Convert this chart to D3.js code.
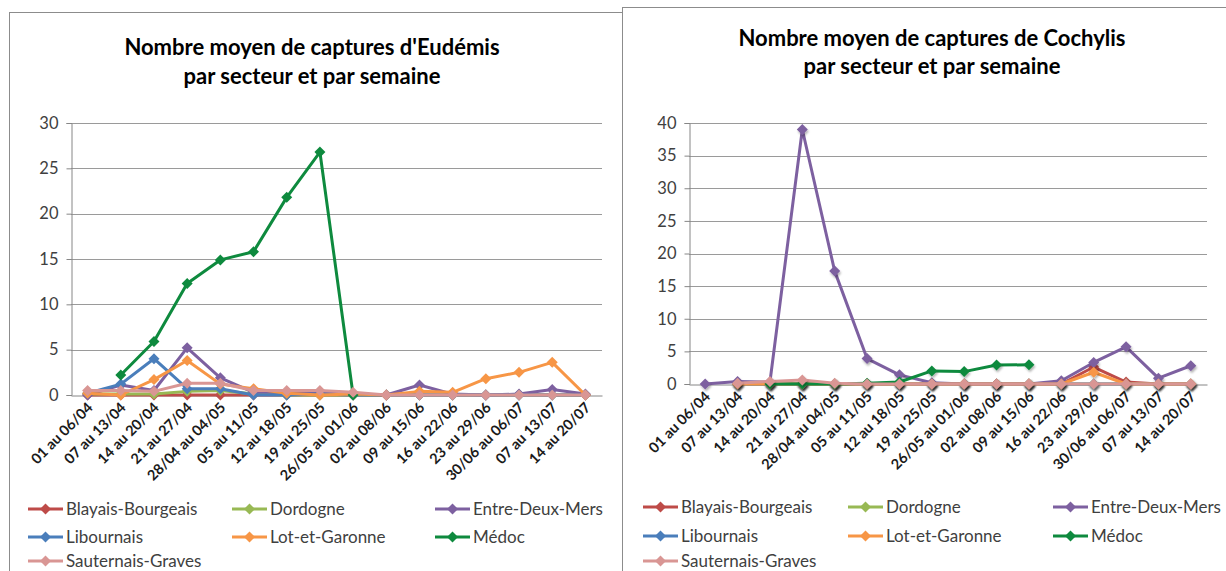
<!DOCTYPE html>
<html>
<head>
<meta charset="utf-8">
<script src="https://cdn.jsdelivr.net/npm/d3@7"></script>
<style>
  body { margin: 0; background: #fff; }
  svg { display: block; }
  text { font-family: Lato, "Open Sans", sans-serif; }
</style>
</head>
<body>
<svg id="chart" width="1226" height="571"></svg>
<script>
// Semaines (axe des abscisses)
const weeks = ["01 au 06/04", "07 au 13/04", "14 au 20/04", "21 au 27/04", "28/04 au 04/05",
    "05 au 11/05", "12 au 18/05", "19 au 25/05", "26/05 au 01/06", "02 au 08/06",
    "09 au 15/06", "16 au 22/06", "23 au 29/06", "30/06 au 06/07", "07 au 13/07", "14 au 20/07"];

const sectors = ["Blayais-Bourgeais", "Dordogne", "Entre-Deux-Mers", "Libournais",
    "Lot-et-Garonne", "Médoc", "Sauternais-Graves"];
const sectorColors = ["#be4b48", "#98b954", "#7d60a0", "#4a7ebb", "#f79646", "#0e8a3e", "#d99694"];

// Eudémis
const eudBlayais    = [0, 0, 0, 0, 0, 0, 0, 0, 0, 0, 0, 0, 0, 0, 0, 0];
const eudDordogne   = [0.1, 0.1, 0.1, 0.4, 0.5, 0.1, 0, 0, 0, 0, 0, 0, 0, 0, 0, 0];
const eudEntreDeux  = [0, 1.1, 0.5, 5.2, 1.9, 0.3, 0.3, 0.4, 0.1, 0, 1.1, 0.1, 0, 0.1, 0.6, 0.1];
const eudLibournais = [0.2, 1.2, 4.0, 0.7, 0.7, 0, 0, 0.1, 0, 0, 0, 0, 0, 0, 0, 0];
const eudLotGaronne = [0.2, 0, 1.7, 3.8, 1.2, 0.7, 0.2, 0, 0.1, 0, 0.4, 0.3, 1.8, 2.5, 3.6, 0];
const eudMedoc      = [null, 2.2, 5.9, 12.3, 14.9, 15.8, 21.8, 26.8, 0, null, null, null, null, null, null, null];
const eudSauternais = [0.5, 0.5, 0.4, 1.3, 1.3, 0.5, 0.5, 0.5, 0.3, 0, 0, 0, 0, 0, 0, 0];
const eudTicks = [0, 5, 10, 15, 20, 25, 30];

// Cochylis
const cocBlayais    = [null, 0, 0, 0, 0, 0, 0, 0, 0, 0, 0, 0, 2.6, 0.3, 0, 0];
const cocDordogne   = [null, 0, 0, 0, 0, 0, 0, 0, 0, 0, 0, 0, 0, 0, 0, 0];
const cocEntreDeux  = [0, 0.4, 0.3, 39, 17.3, 3.9, 1.4, 0.2, 0, 0, 0, 0.5, 3.3, 5.7, 0.9, 2.8];
const cocLibournais = [null, 0, 0, 0, 0, 0, 0, 0, 0, 0, 0, 0, 0, 0, 0, 0];
const cocLotGaronne = [null, 0, 0, 0, 0, 0, 0, 0, 0, 0, 0, 0, 1.8, 0, 0, 0];
const cocMedoc      = [null, null, 0, 0, 0, 0.1, 0.3, 2.0, 1.9, 2.9, 2.95, null, null, null, null, null];
const cocSauternais = [null, 0.1, 0.4, 0.6, 0.1, 0, 0, 0, 0, 0, 0, 0, 0, 0, 0, 0];
const cocTicks = [0, 5, 10, 15, 20, 25, 30, 35, 40];

const svg = d3.select('#chart');

// drop shadow for markers
const defs = svg.append('defs');
const f = defs.append('filter').attr('id', 'shadow')
    .attr('x', '-50%').attr('y', '-50%').attr('width', '200%').attr('height', '200%');
f.append('feDropShadow').attr('dx', 1).attr('dy', 2).attr('stdDeviation', 1.2)
    .attr('flood-color', '#000').attr('flood-opacity', 0.3);

const diamond = r => `M0,${-r}L${r},0L0,${r}L${-r},0Z`;

function drawChart(cfg) {
    const g = svg.append('g');

    // Frame
    g.append('rect')
        .attr('x', cfg.frame[0] + 0.5).attr('y', cfg.frame[1] + 0.5)
        .attr('width', cfg.frame[2]).attr('height', cfg.frame[3])
        .attr('fill', '#fff').attr('stroke', '#8c8c8c');

    // Title
    g.append('text')
        .attr('x', cfg.titleX).attr('y', cfg.titleY)
        .attr('text-anchor', 'middle')
        .style('font-size', '22px').style('font-weight', 'bold').style('fill', '#000')
        .selectAll('tspan').data(cfg.title).enter().append('tspan')
        .attr('x', cfg.titleX).attr('dy', (d, i) => i === 0 ? 0 : cfg.titleGap)
        .text(d => d);

    const x = d3.scaleBand().domain(weeks).range([cfg.left, cfg.right]);
    const y = d3.scaleLinear().domain([0, d3.max(cfg.ticks)]).range([cfg.bottom, cfg.top]);
    const cx = d => x(d) + x.bandwidth() / 2;

    // Gridlines
    g.append('g').selectAll('line').data(cfg.ticks.filter(t => t > 0)).enter().append('line')
        .attr('x1', cfg.left).attr('x2', cfg.right)
        .attr('y1', d => Math.round(y(d)) + 0.5).attr('y2', d => Math.round(y(d)) + 0.5)
        .attr('stroke', '#9a9a9a').attr('stroke-width', 1);

    // Y axis
    const yAxis = g.append('g')
        .attr('transform', `translate(${cfg.left + 0.5},0)`)
        .call(d3.axisLeft(y).tickValues(cfg.ticks).tickSize(5).tickPadding(8));
    yAxis.select('.domain').attr('stroke', '#868686');
    yAxis.selectAll('.tick line').attr('stroke', '#868686');
    yAxis.selectAll('text').style('font-size', '16.5px').style('fill', '#404040')
        .style('font-family', 'Lato, sans-serif');

    // X axis
    const xAxis = g.append('g')
        .attr('transform', `translate(0,${Math.round(cfg.bottom) + 0.5})`)
        .call(d3.axisBottom(x).tickSize(0).tickPadding(0));
    xAxis.select('.domain').attr('stroke', '#868686');
    xAxis.selectAll('.tick text')
        .attr('text-anchor', 'end')
        .attr('dy', 0).attr('y', 0)
        .attr('transform', 'translate(6,13) rotate(-45)')
        .style('font-size', '14.5px').style('font-weight', 'bold').style('fill', '#1a1a1a')
        .style('font-family', 'Lato, sans-serif');

    // Series
    const line = d3.line()
        .defined(d => d != null)
        .x((d, i) => cx(weeks[i]))
        .y(d => y(d));

    cfg.series.forEach((vals, si) => {
        const sg = g.append('g');
        sg.append('path')
            .datum(vals)
            .attr('d', line)
            .attr('fill', 'none')
            .attr('stroke', sectorColors[si])
            .attr('stroke-width', 3)
            .attr('stroke-linejoin', 'round');
        sg.selectAll('path.m')
            .data(vals.map((v, i) => ({ v, i })).filter(d => d.v != null))
            .enter().append('path')
            .attr('class', 'm')
            .attr('d', diamond(5.5))
            .attr('transform', d => `translate(${cx(weeks[d.i])},${y(d.v)})`)
            .attr('fill', sectorColors[si])
            .attr('filter', cfg.shadow ? 'url(#shadow)' : null);
    });

    // Legend
    const leg = g.append('g');
    sectors.forEach((name, i) => {
        const col = i % 3, row = Math.floor(i / 3);
        const lx = cfg.legendX[col], ly = cfg.legendY[row];
        leg.append('line')
            .attr('x1', lx).attr('x2', lx + 35).attr('y1', ly).attr('y2', ly)
            .attr('stroke', sectorColors[i]).attr('stroke-width', 3);
        leg.append('path')
            .attr('d', diamond(5.5))
            .attr('transform', `translate(${lx + 17.5},${ly})`)
            .attr('fill', sectorColors[i]);
        leg.append('text')
            .attr('x', lx + 38).attr('y', ly + 6)
            .style('font-size', '17px').style('fill', '#404040')
            .text(name);
    });
}

drawChart({
    frame: [9, 12, 640, 600],
    title: ["Nombre moyen de captures d'Eudémis", "par secteur et par semaine"],
    titleX: 312, titleY: 55, titleGap: 29,
    left: 71, right: 602, top: 123, bottom: 395,
    ticks: eudTicks,
    series: [eudBlayais, eudDordogne, eudEntreDeux, eudLibournais, eudLotGaronne, eudMedoc, eudSauternais],
    legendX: [28, 232, 435],
    legendY: [509, 537, 561],
    shadow: false
});

drawChart({
    frame: [622, 7, 620, 600],
    title: ["Nombre moyen de captures de Cochylis", "par secteur et par semaine"],
    titleX: 932, titleY: 46, titleGap: 28,
    left: 689, right: 1207, top: 123, bottom: 384,
    ticks: cocTicks,
    series: [cocBlayais, cocDordogne, cocEntreDeux, cocLibournais, cocLotGaronne, cocMedoc, cocSauternais],
    legendX: [643, 848, 1053],
    legendY: [507, 536, 561],
    shadow: true
});
</script>
</body>
</html>
